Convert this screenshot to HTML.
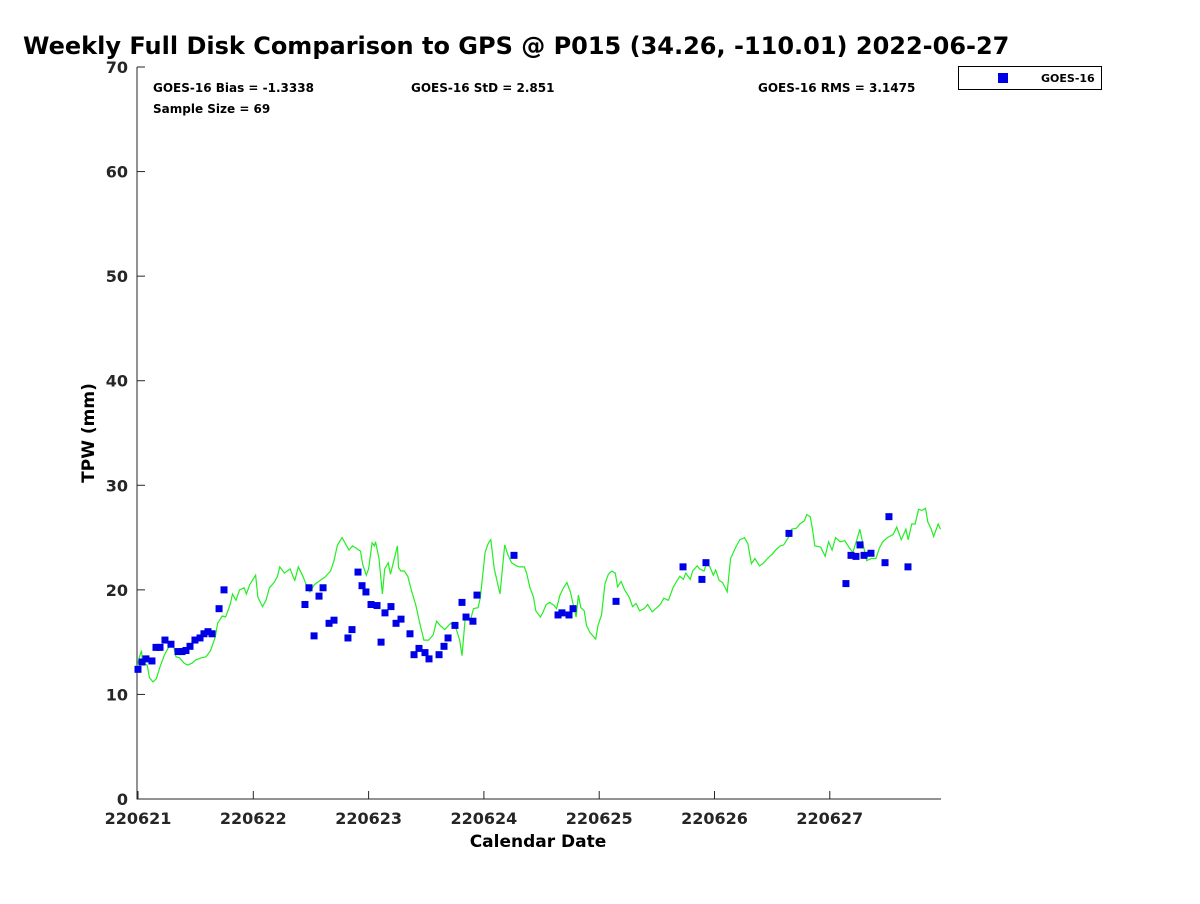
<!DOCTYPE html>
<html><head><meta charset="utf-8"><style>
body{margin:0;background:#fff;width:1200px;height:900px;overflow:hidden;font-family:"DejaVu Sans","Liberation Sans",sans-serif}
</style></head><body>
<svg id="chart" width="1200" height="900" xmlns="http://www.w3.org/2000/svg" font-family="DejaVu Sans, Liberation Sans, sans-serif" font-weight="bold">
<rect width="1200" height="900" fill="#fff"/>
<text x="23" y="54" font-size="24" fill="#000">Weekly Full Disk Comparison to GPS @ P015 (34.26, -110.01) 2022-06-27</text>
<g id="axes"></g>
<g id="series"></g>
<text x="153" y="92" font-size="12">GOES-16 Bias = -1.3338</text>
<text x="411" y="92" font-size="12">GOES-16 StD = 2.851</text>
<text x="758" y="92" font-size="12">GOES-16 RMS = 3.1475</text>
<text x="153" y="113" font-size="12">Sample Size = 69</text>
<text x="538" y="847" font-size="17" text-anchor="middle">Calendar Date</text>
<text transform="translate(94,433) rotate(-90)" font-size="17" text-anchor="middle">TPW (mm)</text>
<g>
<rect x="958.5" y="66.5" width="143" height="23" fill="#fff" stroke="#000" stroke-width="1"/>
<rect x="998" y="73" width="10" height="10" fill="#0000e6"/>
<text x="1041" y="82" font-size="11">GOES-16</text>
</g>
</svg>
<script>
const xTickLabels=["220621","220622","220623","220624","220625","220626","220627"];
const yTickLabels=[0,10,20,30,40,50,60,70];
const ptDays=[0.000,0.035,0.069,0.121,0.156,0.191,0.234,0.286,0.347,0.382,0.416,0.451,0.494,0.538,0.572,0.607,0.642,0.703,0.746,1.448,1.483,1.527,1.570,1.605,1.657,1.700,1.821,1.856,1.908,1.943,1.977,2.021,2.073,2.108,2.142,2.194,2.238,2.281,2.359,2.394,2.437,2.489,2.524,2.611,2.654,2.689,2.749,2.810,2.845,2.905,2.940,3.261,3.643,3.677,3.738,3.773,4.146,4.727,4.891,4.926,5.646,6.140,6.184,6.227,6.262,6.297,6.357,6.479,6.513,6.678];
const ptVals=[12.4,13.1,13.4,13.2,14.5,14.5,15.2,14.8,14.1,14.1,14.2,14.6,15.2,15.4,15.8,16.0,15.8,18.2,20.0,18.6,20.2,15.6,19.4,20.2,16.8,17.1,15.4,16.2,21.7,20.4,19.8,18.6,18.5,15.0,17.8,18.4,16.8,17.2,15.8,13.8,14.4,14.0,13.4,13.8,14.6,15.4,16.6,18.8,17.4,17.0,19.5,23.3,17.6,17.8,17.6,18.2,18.9,22.2,21.0,22.6,25.4,20.6,23.3,23.2,24.3,23.3,23.5,22.6,27.0,22.2];
const gpsDays=[-0.01,0.01,0.03,0.04,0.08,0.10,0.13,0.16,0.19,0.23,0.28,0.30,0.33,0.36,0.40,0.43,0.47,0.50,0.55,0.59,0.63,0.67,0.69,0.73,0.76,0.80,0.82,0.85,0.88,0.92,0.94,0.97,1.02,1.04,1.08,1.11,1.14,1.18,1.21,1.23,1.27,1.32,1.34,1.36,1.39,1.43,1.47,1.49,1.53,1.58,1.62,1.67,1.70,1.73,1.77,1.80,1.83,1.86,1.89,1.93,1.95,1.98,2.00,2.03,2.05,2.06,2.09,2.12,2.14,2.17,2.19,2.21,2.25,2.26,2.28,2.31,2.34,2.37,2.41,2.45,2.48,2.52,2.56,2.59,2.62,2.66,2.71,2.75,2.79,2.81,2.84,2.88,2.91,2.95,2.97,3.01,3.04,3.06,3.09,3.14,3.18,3.21,3.24,3.28,3.31,3.35,3.37,3.40,3.43,3.45,3.49,3.51,3.54,3.57,3.61,3.63,3.66,3.69,3.72,3.75,3.77,3.80,3.82,3.84,3.87,3.89,3.92,3.97,3.99,4.02,4.05,4.08,4.11,4.14,4.16,4.19,4.22,4.26,4.29,4.32,4.35,4.39,4.42,4.46,4.49,4.53,4.56,4.60,4.64,4.67,4.70,4.73,4.75,4.79,4.81,4.85,4.87,4.91,4.93,4.96,4.99,5.01,5.04,5.07,5.11,5.14,5.18,5.22,5.26,5.29,5.32,5.35,5.39,5.42,5.46,5.50,5.53,5.57,5.60,5.64,5.67,5.71,5.74,5.78,5.80,5.83,5.85,5.87,5.92,5.96,5.99,6.02,6.05,6.09,6.13,6.17,6.20,6.24,6.26,6.29,6.32,6.36,6.40,6.43,6.46,6.50,6.55,6.58,6.62,6.66,6.68,6.71,6.74,6.77,6.80,6.83,6.85,6.88,6.90,6.94,6.96];
const gpsVals=[12.5,13.5,14.2,13.0,12.8,11.6,11.2,11.5,12.6,13.8,14.8,15.0,13.6,13.5,13.0,12.8,13.0,13.3,13.5,13.6,14.2,15.5,16.8,17.5,17.4,18.6,19.6,19.0,20.0,20.2,19.6,20.5,21.4,19.3,18.4,19.0,20.2,20.7,21.3,22.2,21.6,22.0,21.4,20.9,22.2,21.3,20.2,19.8,20.5,20.9,21.2,21.8,22.8,24.3,25.0,24.4,23.8,24.2,24.0,23.7,22.4,21.4,22.0,24.5,24.2,24.6,23.0,19.6,22.0,22.6,21.5,22.4,24.2,22.1,21.8,21.8,21.3,20.0,18.5,16.5,15.2,15.2,15.7,17.0,16.6,16.2,16.8,16.6,15.2,13.7,17.6,17.0,18.2,18.3,19.3,23.6,24.5,24.8,22.0,19.6,24.3,23.3,22.6,22.3,22.2,22.2,21.6,20.2,19.3,18.0,17.4,17.8,18.6,18.8,18.5,18.2,19.5,20.2,20.7,19.8,18.8,17.4,19.5,18.3,18.0,16.6,15.9,15.3,16.6,17.6,20.6,21.5,21.8,21.6,20.3,20.8,20.0,19.3,18.4,18.7,18.0,18.2,18.6,17.9,18.2,18.6,19.2,19.0,20.2,20.8,21.3,21.0,21.6,21.0,21.8,22.3,22.0,21.8,22.5,22.2,21.4,21.9,20.9,20.7,19.8,23.0,24.0,24.8,25.0,24.4,22.5,23.0,22.3,22.5,23.0,23.4,23.8,24.2,24.3,25.0,25.8,25.9,26.3,26.6,27.2,27.0,25.8,24.2,24.1,23.2,24.6,23.8,25.0,24.6,24.7,24.0,23.6,25.0,25.8,24.3,22.8,23.0,23.0,24.0,24.6,25.0,25.3,26.0,24.8,25.8,24.8,26.3,26.3,27.7,27.6,27.8,26.5,25.8,25.1,26.3,25.8];

const NS='http://www.w3.org/2000/svg';
const L=137,R=941,T=67,B=799,X0=138,DAYPX=115.3;
function xs(d){return X0+d*DAYPX;}
function ys(v){return B-(v-0)/(70-0)*(B-T);}
function mk(tag,attrs,parent){const e=document.createElementNS(NS,tag);for(const k in attrs)e.setAttribute(k,attrs[k]);parent.appendChild(e);return e;}
const axes=document.getElementById('axes'),series=document.getElementById('series');
const frame=mk('path',{d:`M${L},${T}V${B}H${R}`,fill:'none',stroke:'#262626','stroke-width':1},axes);


yTickLabels.forEach(v=>{
  const y=ys(v);
  const t=mk('line',{x1:L,x2:L+8,y1:y,y2:y,stroke:'#262626'},axes);
  
  
  const tx=mk('text',{x:L-9,y:y+6,'font-size':16,'text-anchor':'end',fill:'#262626'},axes);
  tx.textContent=v;
  
  
});
xTickLabels.forEach((s,i)=>{
  const x=xs(i);
  const t=mk('line',{x1:x,x2:x,y1:B,y2:B-8,stroke:'#262626'},axes);
  
  
  const tx=mk('text',{x:x,y:B+25,'font-size':16,'text-anchor':'middle',fill:'#262626'},axes);
  tx.textContent=s;
  
  
});
const line=mk('polyline',{points:gpsDays.map((d,i)=>xs(d).toFixed(1)+','+ys(gpsVals[i]).toFixed(1)).join(' '),fill:'none',stroke:'#22ee22','stroke-width':1.2},series);


ptDays.forEach((d,i)=>{
  const r=mk('rect',{x:xs(d)-3.5,y:ys(ptVals[i])-3.5,width:7,height:7,fill:'#0000e6'},series);
  
  
});
</script>
</body></html>
